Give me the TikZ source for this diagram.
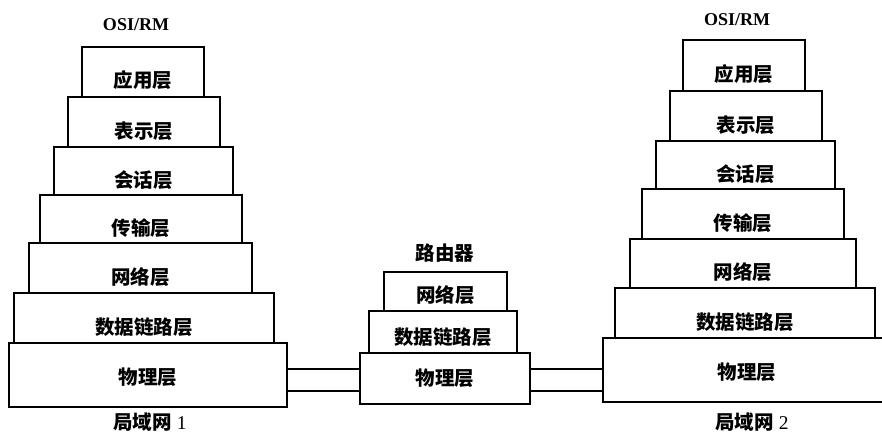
\documentclass[tikz,border=0pt]{standalone}
\usepackage{fontspec}
\setmainfont{Liberation Serif}
\newfontfamily\cjk{Noto Sans CJK SC}
\newcommand\mylayer[7]{\node[box, minimum width=#4pt, minimum height=#5pt,
  label={[txt, yshift=-#7pt]center:#6}] (#1) at (#2,#3) {};}
\begin{document}
\begin{tikzpicture}[x=1pt,y=-1pt,
  box/.style={draw, line width=1.7pt, inner sep=0pt, rectangle},
  openbox/.style={draw=none, inner sep=0pt, rectangle},
  edge/.style={line width=1.7pt},
  txt/.style={font=\cjk\bfseries\fontsize{19.5}{19.5}\selectfont, inner sep=0pt},
  title/.style={font=\bfseries\fontsize{18}{18}\selectfont, inner sep=0pt},
  lancap/.style={font=\fontsize{19.5}{19.5}\selectfont, inner sep=0pt}]
\useasboundingbox (0,0) rectangle (882,439);
% left stack
\node[title] (osiL) at (136,25) {OSI/RM};
\mylayer{A1}{143}{72}{122}{50}{应用层}{8}
\mylayer{A2}{144}{122}{152}{50}{表示层}{9}
\mylayer{A3}{143.5}{171}{179}{48}{会话层}{9}
\mylayer{A4}{141}{219}{202}{48}{传输层}{9}
\mylayer{A5}{140.5}{268}{223}{50}{网络层}{9}
\mylayer{A6}{144}{318}{260}{50}{数据链路层}{9}
\mylayer{A7}{148}{375}{278}{64}{物理层}{2}
\node[lancap] (lanL) at (150,422) {{\cjk\bfseries 局域网} 1};
% router
\node[txt] (rt) at (445,253) {路由器};
\mylayer{R3}{445.5}{291.5}{123}{39}{网络层}{4}
\mylayer{R2}{443}{332}{148}{42}{数据链路层}{5}
\mylayer{R1}{445}{378.5}{170}{51}{物理层}{0}
% right stack
\node[title] (osiR) at (737,20) {OSI/RM};
\mylayer{B1}{744}{65.5}{122}{51}{应用层}{9}
\mylayer{B2}{746}{116}{152}{50}{表示层}{9}
\mylayer{B3}{745.5}{165}{179}{48}{会话层}{9}
\mylayer{B4}{743}{214}{202}{50}{传输层}{9}
\mylayer{B5}{743}{263.5}{226}{49}{网络层}{9}
\mylayer{B6}{745}{313}{260}{50}{数据链路层}{9}
\node[openbox, minimum width=288pt, minimum height=64pt,
  label={[txt, yshift=-2pt]center:物理层}] (B7) at (747,370) {};
\coordinate (rim) at (882,0);
\draw[edge] (B7.north -| rim) -- (B7.north west) -- (B7.south west) -- (B7.south -| rim);
\node[lancap] (lanR) at (752,422) {{\cjk\bfseries 局域网} 2};
% links
\draw[edge] ([yshift=6pt]A7.east) -- ([yshift=6pt]A7.east -| R1.west);
\draw[edge] ([yshift=-16pt]A7.east) -- ([yshift=-16pt]A7.east -| R1.west);
\draw[edge] ([yshift=9.5pt]R1.east) -- ([yshift=9.5pt]R1.east -| B7.west);
\draw[edge] ([yshift=-12.5pt]R1.east) -- ([yshift=-12.5pt]R1.east -| B7.west);
\end{tikzpicture}
\end{document}
